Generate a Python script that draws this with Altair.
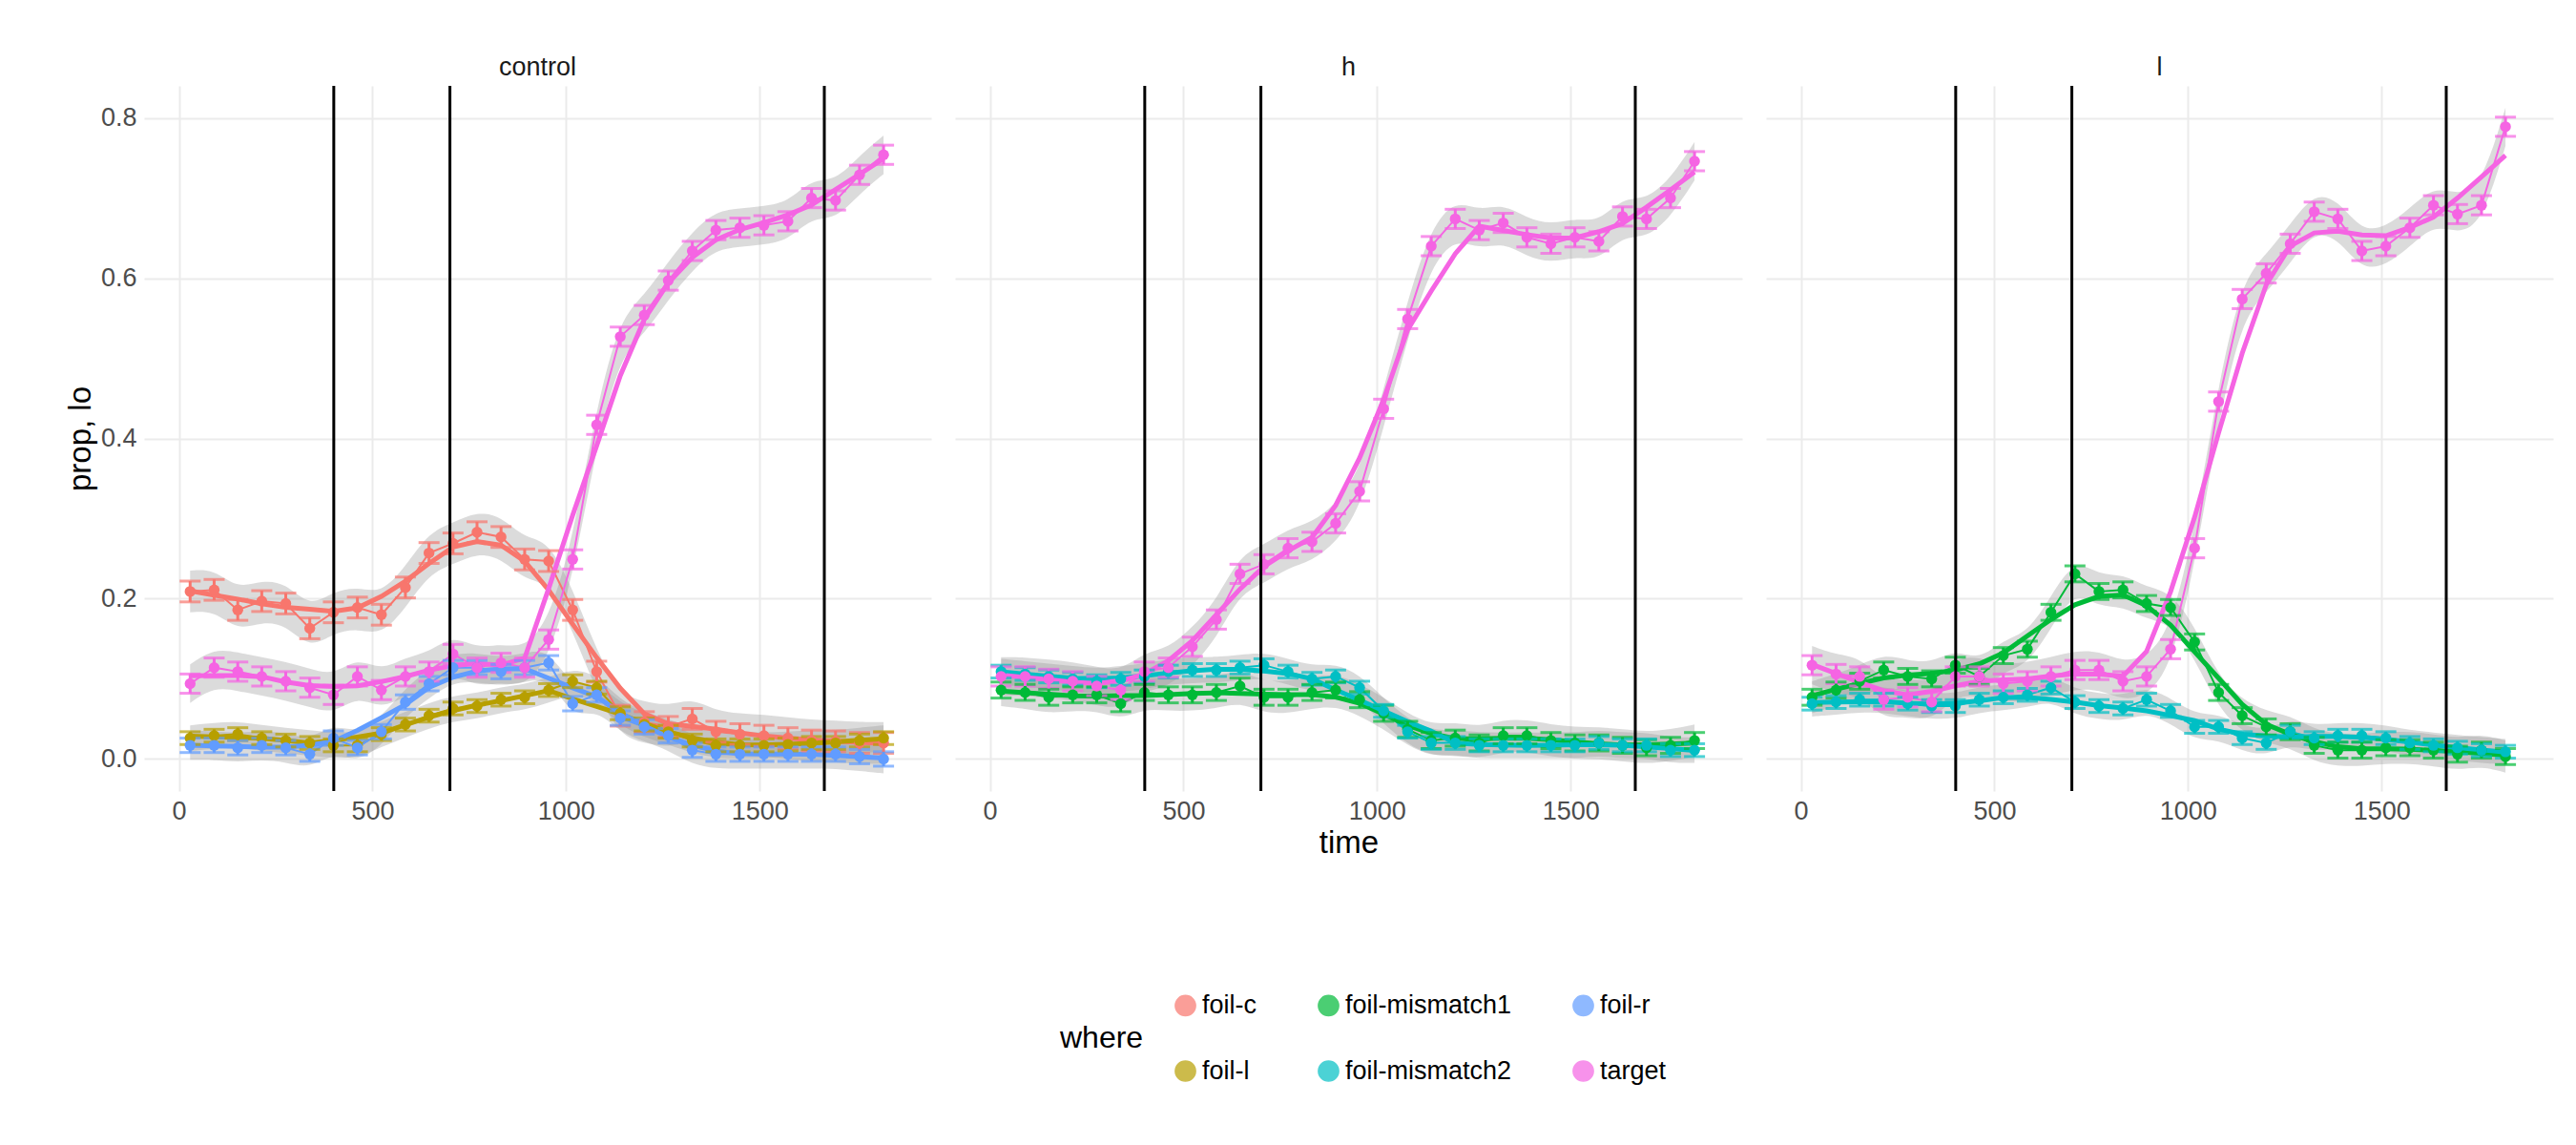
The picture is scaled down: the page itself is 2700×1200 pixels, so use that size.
import pandas as pd
import altair as alt

# time bins shared by every series
times = [29, 91, 152, 214, 276, 338, 399, 461, 523, 585, 646, 708, 770, 832, 893,
         955, 1017, 1079, 1140, 1202, 1264, 1326, 1387, 1449, 1511, 1573, 1634, 1696, 1758, 1820]

# control panel
control_foil_c = [0.209, 0.211, 0.186, 0.197, 0.194, 0.163, 0.183, 0.189, 0.18, 0.214, 0.257, 0.269, 0.283, 0.277, 0.249,
                  0.247, 0.186, 0.109, 0.054, 0.046, 0.04, 0.05, 0.034, 0.031, 0.029, 0.026, 0.023, 0.022, 0.02, 0.02]
control_foil_l = [0.026, 0.029, 0.031, 0.026, 0.023, 0.02, 0.017, 0.017, 0.031, 0.043, 0.054, 0.063, 0.066, 0.074, 0.077,
                  0.086, 0.097, 0.089, 0.057, 0.043, 0.034, 0.023, 0.017, 0.017, 0.017, 0.018, 0.02, 0.02, 0.023, 0.026]
control_foil_r = [0.017, 0.017, 0.014, 0.017, 0.014, 0.006, 0.026, 0.014, 0.034, 0.071, 0.094, 0.114, 0.114, 0.109, 0.114,
                  0.12, 0.069, 0.08, 0.051, 0.04, 0.029, 0.011, 0.006, 0.006, 0.006, 0.006, 0.006, 0.006, 0.003, 0.0]
control_target = [0.094, 0.114, 0.109, 0.103, 0.097, 0.089, 0.08, 0.103, 0.086, 0.103, 0.109, 0.131, 0.114, 0.12, 0.114,
                  0.149, 0.249, 0.417, 0.527, 0.554, 0.597, 0.634, 0.66, 0.663, 0.666, 0.671, 0.7, 0.697, 0.729, 0.754]

# h panel
h_mismatch1 = [0.086, 0.083, 0.077, 0.08, 0.08, 0.069, 0.083, 0.08, 0.08, 0.083, 0.091, 0.077, 0.077, 0.083, 0.086,
               0.074, 0.057, 0.037, 0.023, 0.026, 0.02, 0.029, 0.029, 0.023, 0.02, 0.02, 0.017, 0.014, 0.017, 0.023]
h_mismatch2 = [0.109, 0.106, 0.103, 0.1, 0.097, 0.1, 0.103, 0.109, 0.111, 0.111, 0.114, 0.117, 0.109, 0.1, 0.103,
               0.089, 0.06, 0.034, 0.02, 0.02, 0.017, 0.017, 0.017, 0.017, 0.017, 0.02, 0.017, 0.017, 0.011, 0.011]
h_target = [0.103, 0.103, 0.1, 0.097, 0.091, 0.086, 0.109, 0.114, 0.14, 0.174, 0.231, 0.243, 0.263, 0.271, 0.294,
            0.334, 0.437, 0.549, 0.64, 0.674, 0.66, 0.669, 0.651, 0.643, 0.651, 0.646, 0.677, 0.674, 0.7, 0.746]

# l panel
l_mismatch1 = [0.077, 0.086, 0.097, 0.111, 0.103, 0.1, 0.117, 0.103, 0.129, 0.137, 0.183, 0.231, 0.209, 0.211, 0.194,
               0.189, 0.146, 0.083, 0.054, 0.04, 0.034, 0.017, 0.011, 0.011, 0.014, 0.014, 0.011, 0.006, 0.011, 0.003]
l_mismatch2 = [0.069, 0.071, 0.074, 0.074, 0.069, 0.066, 0.066, 0.074, 0.077, 0.08, 0.089, 0.071, 0.066, 0.063, 0.074,
               0.06, 0.04, 0.04, 0.026, 0.02, 0.034, 0.026, 0.029, 0.029, 0.026, 0.02, 0.017, 0.014, 0.011, 0.009]
l_target = [0.117, 0.106, 0.103, 0.074, 0.077, 0.071, 0.103, 0.103, 0.094, 0.097, 0.103, 0.111, 0.111, 0.097, 0.103,
            0.137, 0.263, 0.446, 0.574, 0.606, 0.643, 0.683, 0.674, 0.634, 0.64, 0.663, 0.691, 0.68, 0.691, 0.789]

# rough standard errors read from the error bar heights
se = {"foil-c": 0.013, "foil-l": 0.008, "foil-r": 0.009, "foil-mismatch1": 0.01,
      "foil-mismatch2": 0.008, "target": 0.012}

event_times = [400, 700, 1667]

panels = {
    "control": {"foil-c": control_foil_c, "foil-l": control_foil_l, "foil-r": control_foil_r, "target": control_target},
    "h": {"foil-mismatch1": h_mismatch1, "foil-mismatch2": h_mismatch2, "target": h_target},
    "l": {"foil-mismatch1": l_mismatch1, "foil-mismatch2": l_mismatch2, "target": l_target},
}

# legend is filled row by row, so order the domain to read column-wise like the reference
where_order = ["foil-c", "foil-mismatch1", "foil-r", "foil-l", "foil-mismatch2", "target"]
where_colors = ["#F8766D", "#00BA38", "#619CFF", "#B79F00", "#00BFC4", "#F564E3"]

FONT = "Liberation Sans"
x_scale = alt.Scale(domain=[-90, 1943], nice=False, zero=False)
y_scale = alt.Scale(domain=[-0.04, 0.84], nice=False, zero=False)
color_scale = alt.Scale(domain=where_order, range=where_colors)


def make_panel(name, show_y, show_x_title):
    rows = []
    for where, vals in panels[name].items():
        for t, p in zip(times, vals):
            rows.append({"time": t, "prop": p, "where": where,
                         "lo": p - se[where], "hi": p + se[where],
                         "blo": p - 2 * se[where], "bhi": p + 2 * se[where]})
    df = pd.DataFrame(rows)

    if show_x_title:
        x_axis = alt.Axis(values=[0, 500, 1000, 1500], format="d", title="time")
    else:
        x_axis = alt.Axis(values=[0, 500, 1000, 1500], format="d", title=None)
    if show_y:
        y_axis = alt.Axis(values=[0, 0.2, 0.4, 0.6, 0.8], format=".1f", title="prop")
    else:
        y_axis = alt.Axis(values=[0, 0.2, 0.4, 0.6, 0.8], labels=False, title=None)

    base = alt.Chart(df)

    band = base.mark_area(color="#999999", opacity=0.35, interpolate="basis").encode(
        alt.X("time:Q", scale=x_scale, axis=x_axis),
        alt.Y("blo:Q", scale=y_scale, axis=y_axis),
        alt.Y2("bhi:Q"),
        detail="where:N"
    )
    thin = base.mark_line(strokeWidth=2).encode(
        alt.X("time:Q", scale=x_scale),
        alt.Y("prop:Q", scale=y_scale),
        alt.Color("where:N", scale=color_scale)
    )
    smooth = base.transform_loess("time", "prop", groupby=["where"], bandwidth=0.25).mark_line(strokeWidth=5).encode(
        alt.X("time:Q", scale=x_scale),
        alt.Y("prop:Q", scale=y_scale),
        alt.Color("where:N", scale=color_scale)
    )
    bars = base.mark_errorbar(ticks=alt.TickConfig(size=22, thickness=3), thickness=3).encode(
        alt.X("time:Q", scale=x_scale),
        alt.Y("lo:Q", scale=y_scale),
        alt.Y2("hi:Q"),
        alt.Color("where:N", scale=color_scale)
    )
    points = base.mark_circle(size=130, opacity=1).encode(
        alt.X("time:Q", scale=x_scale),
        alt.Y("prop:Q", scale=y_scale),
        alt.Color("where:N", scale=color_scale,
                  legend=alt.Legend(title="where", orient="none", legendX=960, legendY=950,
                                    direction="horizontal", columns=3,
                                    titleOrient="left", titleFontSize=32, titleFontWeight="normal",
                                    labelFontSize=27, symbolSize=450, symbolType="circle",
                                    rowPadding=40, columnPadding=60, labelLimit=400, titlePadding=30))
    )
    rules = alt.Chart(pd.DataFrame({"t": event_times})).mark_rule(color="black", strokeWidth=3).encode(
        alt.X("t:Q", scale=x_scale)
    )

    return (band + thin + smooth + bars + points + rules).properties(
        width=825, height=739, title=name)


chart = alt.hconcat(
    make_panel("control", True, False),
    make_panel("h", False, True),
    make_panel("l", False, False),
    spacing=25
).resolve_scale(color="shared").properties(
    padding={"left": 60, "top": 48, "right": 5, "bottom": 5}
).configure_view(stroke=None).configure_axis(
    grid=True, gridColor="#ebebeb", gridWidth=2, domain=False, ticks=False,
    labelFont=FONT, titleFont=FONT, labelFontSize=27, titleFontSize=33, labelColor="#4d4d4d",
    titleColor="black", titleFontWeight="normal", labelPadding=8
).configure_title(font=FONT, fontSize=27, fontWeight="normal", color="#1a1a1a", anchor="middle"
).configure_legend(labelFont=FONT, titleFont=FONT)

chart.save("out.html", embed_options={"renderer": "svg", "actions": False})
